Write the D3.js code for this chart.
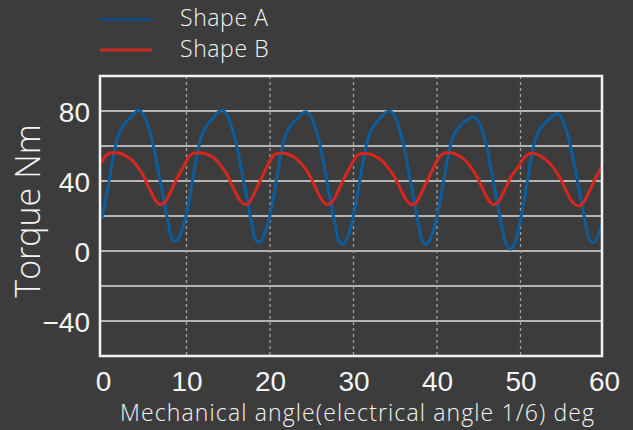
<!DOCTYPE html>
<html>
<head>
<meta charset="utf-8">
<script src="https://cdn.jsdelivr.net/npm/d3@7"></script>
<style>
  body { margin: 0; background: #3c3c3c; }
  svg { display: block; font-family: "Open Sans", "DejaVu Sans", sans-serif; }
</style>
</head>
<body>
<svg id="chart"></svg>
<script>
// chart size
const width = 633;
const height = 430;

// data: torque sampled every 0.5 deg, 0..60
const step = 0.5;
const shapeA = [
  18, 29, 42.5, 56, 66, 71, 74, 76.5, 79, 80.5, 78, 72.5, 64.5, 53.5, 41, 28.5, 16, 6.5, 5.8, 10,
  17.5, 29, 43, 56, 66, 71, 74, 77, 79.5, 80.5, 78, 72, 64, 53, 40.5, 28, 15.5, 6, 5.2, 9.5,
  17, 28, 42, 55.5, 65.5, 70.5, 73.5, 76, 78.5, 79.5, 77.5, 72, 64, 53, 40, 27, 14.5, 5, 4, 8.5,
  16.5, 28, 42, 55.5, 65.5, 70.5, 74, 76.5, 79, 80, 78, 72.5, 64, 53, 40, 27, 14.5, 5, 4, 8.5,
  16, 27, 40.5, 54, 64, 69, 71.5, 74, 75.5, 76.5, 75, 70, 62, 51, 38, 25, 12.5, 3.5, 1, 4.5,
  14, 26, 40, 54, 64.5, 69.5, 72.5, 75, 77, 78.5, 77, 71.5, 63.5, 52.5, 40, 27.5, 15, 6, 5, 9,
  16.5
];
const shapeB = [
  50.5, 54.5, 56, 56.2, 56, 55.3, 54, 52.5, 50, 47, 43.3, 38, 33, 28.7, 26.6, 27.5, 31, 36, 41, 45.5,
  50, 54, 55.8, 56.2, 56, 55.5, 54.5, 53, 50.5, 47.5, 44, 39, 34, 29.5, 27, 26.8, 30, 35, 40, 45,
  50, 54, 55.8, 56, 55.8, 55, 53.8, 52, 49.5, 46.5, 42.5, 37.5, 32.5, 28.5, 26.5, 27.5, 31, 36, 41, 45.5,
  50, 54, 55.5, 55.8, 55.5, 54.8, 53.5, 52, 49.5, 46.5, 43, 38.5, 33.5, 29, 26.6, 26.8, 30, 35, 40, 45,
  50, 54, 55.8, 56.2, 56, 55.2, 53.8, 52, 49.5, 46, 42, 37, 32, 28, 26.5, 28, 32, 37, 42, 45.5,
  48.5, 52.5, 55, 55.8, 55.5, 54.5, 53, 51, 48.5, 45, 41, 36, 31, 27.5, 25.7, 26.5, 30, 35, 40, 44.5,
  49
];
const xTicks = [0, 10, 20, 30, 40, 50, 60];
const yTicks = [-40, 0, 40, 80];
const yGrid = [-40, -20, 0, 20, 40, 60, 80];
const seriesNames = ["Shape A", "Shape B"];

const svg = d3.select("#chart")
    .attr("width", width)
    .attr("height", height);

// plot frame
const plot = { left: 100, right: 602, top: 76, bottom: 356 };

const x = d3.scaleLinear().domain([0, 60]).range([101.5, 602.5]);
const y = d3.scaleLinear().domain([-60, 100]).range([plot.bottom, plot.top]);

// horizontal grid
svg.selectAll(".hgrid")
    .data(yGrid)
    .enter()
    .append("line")
    .attr("x1", plot.left)
    .attr("x2", plot.right)
    .attr("y1", d => y(d))
    .attr("y2", d => y(d))
    .attr("stroke", "#dcdcdc")
    .attr("stroke-width", 1.5);

// vertical dashed grid
svg.selectAll(".vgrid")
    .data(xTicks.slice(1, -1))
    .enter()
    .append("line")
    .attr("x1", d => x(d) + 1.5)
    .attr("x2", d => x(d) + 1.5)
    .attr("y1", plot.top)
    .attr("y2", plot.bottom)
    .attr("stroke", "#a0a0a0")
    .attr("stroke-width", 1.3)
    .attr("stroke-dasharray", "3,3");

const line = d3.line()
    .x((d, i) => x(i * step))
    .y(d => y(d))
    .curve(d3.curveCatmullRom);

svg.append("clipPath").attr("id", "clip")
    .append("rect")
    .attr("x", plot.left).attr("y", plot.top)
    .attr("width", plot.right - plot.left).attr("height", plot.bottom - plot.top);

const g = svg.append("g").attr("clip-path", "url(#clip)");

g.append("path")
    .attr("d", line(shapeA))
    .attr("fill", "none")
    .attr("stroke", "#0b5d9e")
    .attr("stroke-width", 3);

g.append("path")
    .attr("d", line(shapeB))
    .attr("fill", "none")
    .attr("stroke", "#d7261e")
    .attr("stroke-width", 3);

// frame
svg.append("rect")
    .attr("x", plot.left)
    .attr("y", plot.top)
    .attr("width", plot.right - plot.left)
    .attr("height", plot.bottom - plot.top)
    .attr("fill", "none")
    .attr("stroke", "#f4f4f4")
    .attr("stroke-width", 2.5);

// axes (labels only)
const xAxis = d3.axisBottom(x).tickValues(xTicks).tickSize(0).tickPadding(0);
svg.append("g")
    .attr("transform", "translate(1.5," + 391 + ")")
    .call(xAxis)
    .call(a => a.select(".domain").remove())
    .selectAll("text")
    .attr("dy", 0)
    .attr("fill", "#f4f4f4")
    .style("font-size", "28px")
    .style("font-weight", 300);

const yAxis = d3.axisLeft(y).tickValues(yTicks).tickSize(0).tickPadding(0);
svg.append("g")
    .attr("transform", "translate(90,0)")
    .call(yAxis)
    .call(a => a.select(".domain").remove())
    .selectAll("text")
    .attr("dy", "0.36em")
    .attr("fill", "#f4f4f4")
    .style("font-size", "28px")
    .style("font-weight", 300);

// axis titles
svg.append("text")
    .attr("transform", "translate(40,211) rotate(-90)")
    .attr("text-anchor", "middle")
    .attr("fill", "#f4f4f4")
    .style("font-size", "34px")
    .style("font-weight", 300)
    .text("Torque Nm");

svg.append("text")
    .attr("x", 357)
    .attr("y", 421)
    .attr("text-anchor", "middle")
    .attr("fill", "#f4f4f4")
    .attr("textLength", 474)
    .attr("lengthAdjust", "spacing")
    .style("font-size", "23px")
    .style("font-weight", 300)
    .text("Mechanical angle(electrical angle 1/6) deg");

// legend
const legendColors = ["#114b82", "#cc2a22"];
const legend = svg.selectAll(".legend")
    .data(seriesNames)
    .enter()
    .append("g")
    .attr("transform", (d, i) => "translate(0," + (i * 30.5) + ")");

legend.append("line")
    .attr("x1", 100).attr("x2", 152)
    .attr("y1", 19.5).attr("y2", 19.5)
    .attr("stroke", (d, i) => legendColors[i])
    .attr("stroke-width", 3);

legend.append("text")
    .attr("x", 180)
    .attr("y", 26)
    .attr("fill", "#f4f4f4")
    .style("font-size", "23px")
    .style("font-weight", 300)
    .style("letter-spacing", "0.6px")
    .text(d => d);
</script>
</body>
</html>
